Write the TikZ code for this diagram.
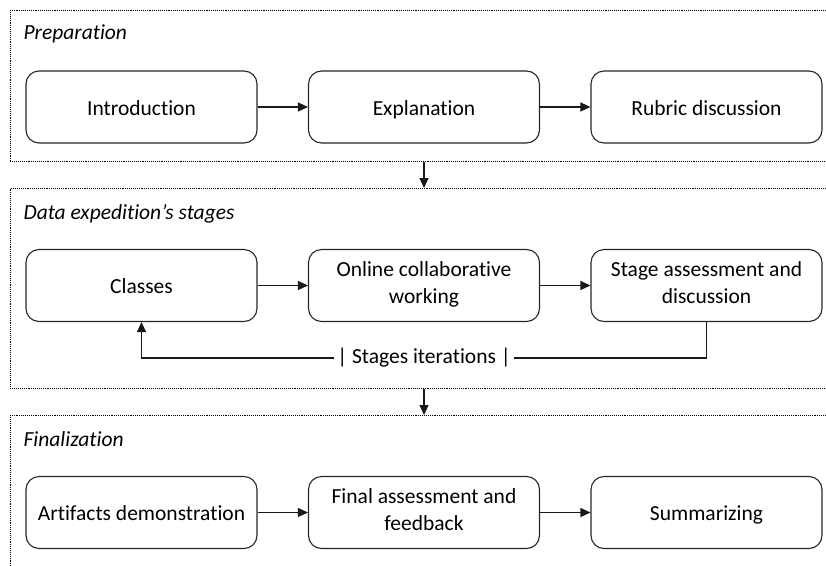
\documentclass[tikz,border=0pt]{standalone}
\usepackage{fontspec}
\setmainfont{Carlito}[Ligatures=NoCommon]
\usetikzlibrary{arrows.meta}
\newcommand{\boxstrut}{\rule[-5pt]{0pt}{26pt}}
\begin{document}
\begin{tikzpicture}[x=1pt,y=-1pt,
  stepbox/.style={draw=black!85, line width=1.1pt, rounded corners=13pt,
    minimum width=231pt, minimum height=72pt, align=center, inner sep=2pt,
    font=\fontsize{21.5}{27}\selectfont, execute at begin node=\boxstrut, execute at end node=\boxstrut},
  frame/.style={draw=black, line width=0.9pt, densely dotted, anchor=north west, inner sep=0pt},
  flabel/.style={anchor=west, font=\fontsize{21.5}{27}\selectfont\itshape},
  arr/.style={-{Triangle[length=10pt,width=9pt]}, line width=1.1pt, black!90},
  lbl/.style={fill=white, inner sep=3pt, font=\fontsize{21.5}{27}\selectfont}]
\clip (0,0) rectangle (826,565);
% frames
\node[frame, minimum width=830pt, minimum height=151pt] (f1) at (10,10) {};
\node[frame, minimum width=830pt, minimum height=200pt] (f2) at (10,188) {};
\node[frame, minimum width=830pt, minimum height=170pt] (f3) at (10,415) {};
\node[flabel] (t1) at (20,34) {Preparation};
\node[flabel] (t2) at (20,214) {Data expedition’s stages};
\node[flabel] (t3) at (20,439) {Finalization};
% row 1
\node[stepbox] (a1) at (141.5,107) {Introduction};
\node[stepbox] (a2) at (424,107) {Explanation};
\node[stepbox] (a3) at (706.5,107) {Rubric discussion};
% row 2
\node[stepbox] (b1) at (141.5,285.5) {Classes};
\node[stepbox] (b2) at (424,285.5) {Online collaborative\\working};
\node[stepbox] (b3) at (706.5,285.5) {Stage assessment and\\discussion};
% row 3
\node[stepbox] (c1) at (141.5,512.5) {Artifacts demonstration};
\node[stepbox] (c2) at (424,512.5) {Final assessment and\\feedback};
\node[stepbox] (c3) at (706.5,512.5) {Summarizing};
% arrows
\draw[arr] (a1) -- (a2);
\draw[arr] (a2) -- (a3);
\draw[arr] (b1) -- (b2);
\draw[arr] (b2) -- (b3);
\draw[arr] (c1) -- (c2);
\draw[arr] (c2) -- (c3);
\draw[arr] (f1.south -| a2) -- (f2.north -| a2);
\draw[arr] (f2.south -| b2) -- (f3.north -| b2);
% loop
\coordinate (lr) at (706.5,358);
\coordinate (ll) at (141.5,358);
\draw[arr] (b3.south) -- (lr) -- (ll) -- (b1.south);
\node[lbl] (it) at (424,358) {| Stages iterations |};
\end{tikzpicture}
\end{document}
